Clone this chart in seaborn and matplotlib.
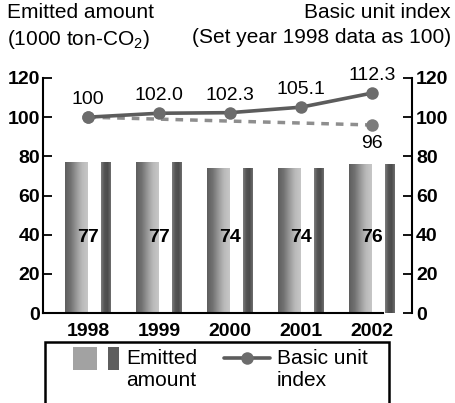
import numpy as np
import pandas as pd
import matplotlib
matplotlib.use("Agg")
import matplotlib.pyplot as plt
import seaborn as sns
from matplotlib.colors import LinearSegmentedColormap
from matplotlib.legend_handler import HandlerBase, HandlerLine2D
from matplotlib.patches import Rectangle
from matplotlib.lines import Line2D
from matplotlib.transforms import Affine2D

# ---- data -------------------------------------------------------------
years = ["1998", "1999", "2000", "2001", "2002"]
emitted = [77, 77, 74, 74, 76]                     # 1000 ton-CO2
unit_index = [100, 102.0, 102.3, 105.1, 112.3]     # 1998 = 100
target_years = ["1998", "2002"]
target_index = [100, 96]
y_ticks = [0, 20, 40, 60, 80, 100, 120]

# ---- style ------------------------------------------------------------
sns.set_theme(style="ticks")
plt.rcParams["font.family"] = ["Liberation Sans", "DejaVu Sans"]
plt.rcParams["mathtext.fontset"] = "custom"
plt.rcParams["mathtext.rm"] = "Liberation Sans"
plt.rcParams["mathtext.default"] = "regular"
plt.rcParams["axes.edgecolor"] = "black"
plt.rcParams["xtick.color"] = "black"
plt.rcParams["ytick.color"] = "black"
plt.rcParams["text.color"] = "black"

W, H = 455, 403
fig = plt.figure(figsize=(W / 100, H / 100), dpi=100)
fig.patch.set_facecolor("white")
ax = fig.add_axes([43 / W, 90 / H, 369 / W, 235 / H])

pos = np.arange(len(years))
df = pd.DataFrame({"year": years, "pos": pos, "emitted": emitted, "index": unit_index})
tpos = np.array([years.index(y) for y in target_years])

# ---- columns: a wide shaded body and a narrow dark strip -------------
sns.barplot(x=df["pos"] - 0.17, y=df["emitted"], native_scale=True, orient="x",
            width=0.31, color="#8a8a8a", errorbar=None, linewidth=0, ax=ax)
wide_bars = list(ax.patches)
sns.barplot(x=df["pos"] + 0.254, y=df["emitted"], native_scale=True, orient="x",
            width=0.14, color="#5e5e5e", errorbar=None, linewidth=0, ax=ax)
narrow_bars = [p for p in ax.patches if p not in wide_bars]

shade_wide = LinearSegmentedColormap.from_list(
    "shade_wide", ["#5e5e5e", "#727272", "#989898", "#bababa", "#c6c6c6"])
shade_narrow = LinearSegmentedColormap.from_list(
    "shade_narrow", ["#7c7c7c", "#555555", "#4c4c4c", "#6e6e6e"])
grad = np.linspace(0, 1, 64).reshape(1, -1)
for bars, cm in ((wide_bars, shade_wide), (narrow_bars, shade_narrow)):
    for p in bars:
        x0, w, h = p.get_x(), p.get_width(), p.get_height()
        im = ax.imshow(grad, cmap=cm, extent=(x0, x0 + w, 0, h), aspect="auto",
                       origin="lower", interpolation="bilinear",
                       zorder=p.get_zorder() + 0.1)
        im.set_clip_path(p)

for i, v in enumerate(emitted):
    ax.text(pos[i], 38.8, f"{v}", ha="center", va="center", fontsize=14,
            fontweight="bold", zorder=5)

# ---- left axis ----------------------------------------------------------
ax.set_xlim(-0.634, 4.563)
ax.set_ylim(0, 120)
ax.set_yticks(y_ticks)
ax.set_xticks(pos, years)
ax.set_xlabel("")
ax.set_ylabel("")
for s in ("top", "right"):
    ax.spines[s].set_visible(False)
ax.spines["left"].set_linewidth(1.5)
ax.spines["bottom"].set_linewidth(1.5)
ax.spines["bottom"].set_bounds(-0.634, 4.155)
ax.tick_params(axis="y", direction="in", length=6.5, width=1.3, pad=2, labelsize=14)
ax.tick_params(axis="x", length=0, pad=7, labelsize=14)
for lbl in ax.get_xticklabels() + ax.get_yticklabels():
    lbl.set_fontweight("bold")

# ---- right axis: basic unit index ------------------------------------
ax2 = ax.twinx()
sns.lineplot(x=tpos, y=target_index, ax=ax2, color="#8e8e8e", lw=2.5,
             linestyle=(0, (2.2, 2.0)), marker="o", markersize=9,
             markeredgewidth=0, markerfacecolor="#7c7c7c", zorder=3)
sns.lineplot(x=df["pos"], y=df["index"], ax=ax2, color="#5c5c5c", lw=2.6,
             marker="o", markersize=9, markeredgewidth=0,
             markerfacecolor="#6c6c6c", zorder=4)
ax2.set_ylim(0, 120)
ax2.set_xlim(-0.634, 4.563)
ax2.set_yticks(y_ticks)
ax2.set_xlabel("")
ax2.set_ylabel("")
for s in ("top", "left", "bottom"):
    ax2.spines[s].set_visible(False)
ax2.spines["right"].set_linewidth(1.5)
ax2.tick_params(axis="y", direction="in", length=6.5, width=1.3, pad=3, labelsize=14)
for lbl in ax2.get_yticklabels():
    lbl.set_fontweight("bold")

for i, v in enumerate(unit_index):
    txt = f"{v:.0f}" if i == 0 else f"{v:.1f}"
    ax2.annotate(txt, (pos[i], v), xytext=(0, 12.5), textcoords="offset points",
                 ha="center", va="center", fontsize=14)
ax2.annotate(f"{target_index[-1]}", (tpos[-1], target_index[-1]), xytext=(0, -13.5),
             textcoords="offset points", ha="center", va="center", fontsize=14)

# ---- headers ------------------------------------------------------------
fig.text(7 / W, 1 - 3 / H, "Emitted amount\n(1000 ton-CO$_2$)", ha="left", va="top",
         fontsize=15, linespacing=1.38)
fig.text(451 / W, 1 - 3 / H, "Basic unit index\n(Set year 1998 data as 100)",
         ha="right", va="top", multialignment="right", fontsize=15, linespacing=1.38)


# ---- legend -------------------------------------------------------------
class BarPair:
    pass


class BarPairHandler(HandlerBase):
    def create_artists(self, legend, orig_handle, xdescent, ydescent, width,
                       height, fontsize, trans):
        dy = 0.55 * fontsize
        hh = 1.1 * fontsize
        y0 = -ydescent + height / 2 - hh / 2 + dy
        wide = Rectangle((-xdescent, y0), width * 0.53, hh, transform=trans,
                         facecolor="#a2a2a2", edgecolor="none")
        narrow = Rectangle((-xdescent + width * 0.77, y0), width * 0.23, hh,
                           transform=trans, facecolor="#5e5e5e", edgecolor="none")
        return [wide, narrow]


class RaisedLineHandler(HandlerLine2D):
    def create_artists(self, legend, orig_handle, xdescent, ydescent, width,
                       height, fontsize, trans):
        shifted = Affine2D().translate(0, 0.55 * fontsize) + trans
        return super().create_artists(legend, orig_handle, xdescent, ydescent,
                                      width, height, fontsize, shifted)


line_handle = Line2D([], [], color="#5c5c5c", lw=2.6, marker="o", markersize=9,
                     markeredgewidth=0, markerfacecolor="#6c6c6c")
fig.legend(handles=[BarPair(), line_handle],
           labels=["Emitted\namount", "Basic unit\nindex"],
           handler_map={BarPair: BarPairHandler(), Line2D: RaisedLineHandler()},
           loc="upper left", bbox_to_anchor=(73 / W, 1 - 349 / H), ncol=2,
           frameon=False, borderpad=0, borderaxespad=0, fontsize=15,
           handlelength=2.2, handletextpad=0.34, columnspacing=1.3)

fig.add_artist(Rectangle((45 / W, -0.1), (389 - 45) / W, 0.1 + (403 - 342) / H,
                         transform=fig.transFigure, fill=False, lw=1.8,
                         edgecolor="black", clip_on=False))

fig.savefig("out.png", dpi=100)
